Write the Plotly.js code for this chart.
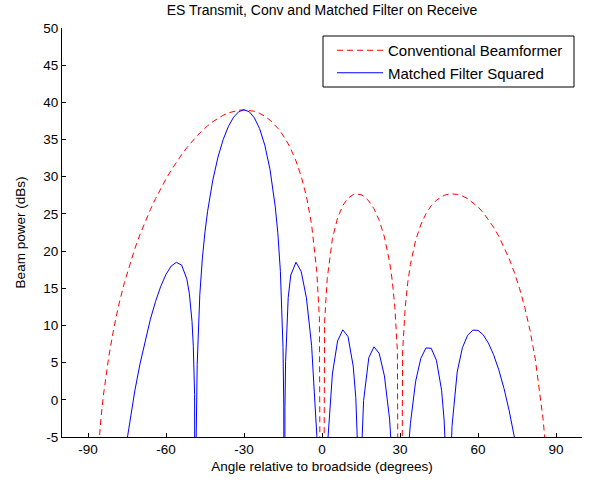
<!DOCTYPE html>
<html><head><meta charset="utf-8">
<script src="https://cdn.plot.ly/plotly-3.0.1.min.js"></script>
<style>html,body{margin:0;padding:0;background:#fff}</style>
</head><body><div id="chart" style="width:590px;height:485px"></div>
<script>
// Angle relative to broadside (degrees)
const angles = [-90,-88,-87,-86,-85,-84,-82,-80,-78,-76,-74,-72,-70,-68,-66,-64,-62,-60,-58,-56,-54,-52,-51,-50,-49.5,-49,-48.8,-48.59,-48.4,-48,-47,-46,-45,-44,-42,-40,-38,-36,-34,-32,-30,-28,-26,-24,-22,-20,-18,-17,-16,-15,-14.7,-14.48,-14.25,-14,-13,-12,-10,-8,-6,-4,-2,-1,0,1,2,4,6,8,10,12,13,14,14.48,15,16,18,20,22,24,26,27,28,29,30,31,32,33,34,36,38,40,42,44,46,47,48,48.59,49,50,52,54,56,58,60,62,64,66,68,70,72,74,76,78,80,82,84,85,86,87,88,90];
// Conventional Beamformer (dB)
const conventional = [-80,-18.3,-11.3,-6.27,-2.4,0.79,5.82,9.76,13.0,15.76,18.17,20.31,22.24,23.99,25.59,27.07,28.44,29.70,30.88,31.96,32.97,33.90,34.33,34.75,34.95,35.14,35.18,35.30,35.40,35.52,35.88,36.23,36.55,36.85,37.40,37.88,38.27,38.58,38.81,38.95,39.00,38.95,38.80,38.53,38.14,37.61,36.94,36.53,36.09,35.59,35.43,35.30,35.17,35.03,34.41,33.73,32.11,30.06,27.38,23.59,17.22,11.00,-80,10.52,16.27,21.67,24.47,26.13,27.11,27.60,27.69,27.68,27.65,27.59,27.40,26.74,25.69,24.14,21.91,18.54,16.08,12.57,6.54,-80,6.46,12.40,15.82,18.20,21.43,23.55,25.04,26.10,26.84,27.32,27.49,27.60,27.65,27.67,27.69,27.63,27.41,27.06,26.56,25.94,25.17,24.26,23.21,21.99,20.58,18.97,17.11,14.95,12.41,9.35,5.56,0.64,-2.51,-6.34,-11.34,-18.35,-80];
// Matched Filter Squared (dB)
const matchedSquared = [-80,-75.6,-61.6,-51.5,-43.8,-37.4,-27.4,-19.5,-13.08,-7.63,-2.92,1.20,4.83,8.03,10.84,13.25,15.27,16.87,17.99,18.49,18.12,16.27,14.25,10.55,7.21,0.72,-5.03,-80,-5.4,4.74,14.12,19.09,22.60,25.35,29.54,32.65,35.01,36.77,38.01,38.75,39.00,38.74,37.92,36.47,34.24,30.98,26.05,22.47,17.27,7.04,-0.68,-80,-0.98,5.16,13.73,16.79,18.50,17.26,13.73,7.32,-4.77,-17.06,-80,-18.0,-6.67,3.48,7.92,9.41,8.51,4.54,0.28,-9.53,-80,-8.96,-0.10,5.67,7.13,6.25,3.22,-2.59,-7.21,-14.01,-25.96,-80,-26.1,-14.35,-7.70,-3.21,2.46,5.57,6.98,6.93,5.32,1.29,-2.84,-11.11,-80,-14.23,-3.56,3.74,7.01,8.67,9.37,9.34,8.74,7.63,6.06,4.03,1.53,-1.48,-5.04,-9.24,-14.26,-20.34,-27.9,-37.7,-44.0,-51.7,-61.7,-75.7,-80];
const seriesNames = ['Conventional Beamformer', 'Matched Filter Squared'];
const xTicks = [-90, -60, -30, 0, 30, 60, 90];
const yTicks = [-5, 0, 5, 10, 15, 20, 25, 30, 35, 40, 45, 50];

const FONT = 'Liberation Sans, Arial, Helvetica, sans-serif';
const traces = [
  {x: angles, y: conventional, name: seriesNames[0], type: 'scatter', mode: 'lines',
   line: {color: 'rgb(255,0,0)', width: 1, dash: '6px,4px'}},
  {x: angles, y: matchedSquared, name: seriesNames[1], type: 'scatter', mode: 'lines',
   line: {color: 'rgb(0,0,255)', width: 1}}
];
const axisCommon = {
  showline: true, linecolor: '#000', linewidth: 1, mirror: false,
  ticks: 'inside', ticklen: 4, tickwidth: 1, tickcolor: '#000',
  showgrid: false, zeroline: false, tickfont: {family: FONT, size: 13.5, color: '#000'},
  automargin: false
};
const layout = {
  width: 590, height: 485,
  margin: {l: 62, r: 8, t: 28, b: 48},
  paper_bgcolor: '#fff', plot_bgcolor: '#fff',
  font: {family: FONT, size: 13.5, color: '#000'},
  title: {text: 'ES Transmit, Conv and Matched Filter on Receive', font: {family: FONT, size: 14, color: '#000'},
          x: 0.5, xref: 'paper', xanchor: 'center', y: 1 - 10/485, yref: 'container', yanchor: 'middle'},
  xaxis: Object.assign({}, axisCommon, {range: [-100, 100], tickvals: xTicks, ticktext: xTicks.map(String),
          title: {text: 'Angle relative to broadside (degrees)', font: {family: FONT, size: 13.5, color: '#000'}, standoff: 5}}),
  yaxis: Object.assign({}, axisCommon, {range: [-5, 50], tickvals: yTicks, ticktext: yTicks.map(String),
          title: {text: 'Beam power (dBs)', font: {family: FONT, size: 13.5, color: '#000'}, standoff: 14}}),
  shapes: [{type: 'rect', xref: 'paper', yref: 'paper',
            x0: (323-62)/520, x1: (574-62)/520, y0: (437-87)/409, y1: (437-36)/409,
            line: {color: '#000', width: 1}, fillcolor: '#fff', layer: 'above'}],
  showlegend: true,
  legend: {x: (332-62)/520, xanchor: 'left', y: (437-34)/409, yanchor: 'top',
           bgcolor: 'rgba(0,0,0,0)', borderwidth: 0, itemwidth: 46, tracegroupgap: 0,
           font: {family: FONT, size: 15, color: '#000'}}
};
Plotly.newPlot('chart', traces, layout, {displayModeBar: false, staticPlot: true});
</script>
</body></html>
